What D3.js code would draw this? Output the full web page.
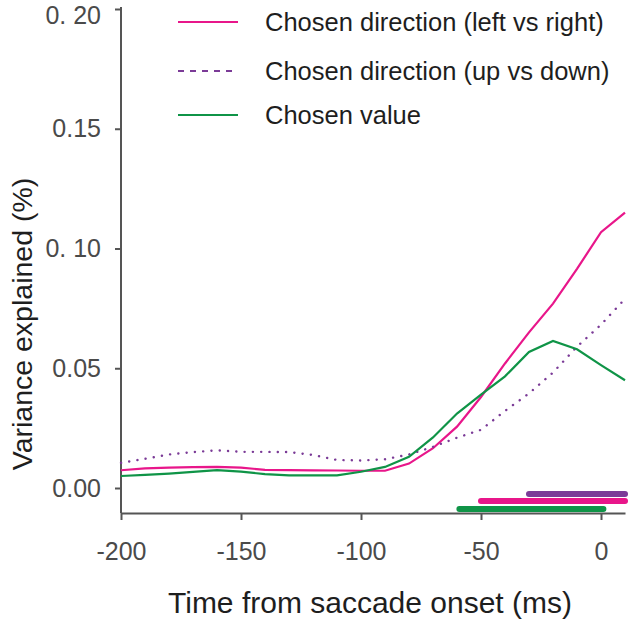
<!DOCTYPE html>
<html><head><meta charset="utf-8">
<script src="https://cdn.jsdelivr.net/npm/d3@7"></script>
<style>
html,body{margin:0;padding:0;background:#fff;}
text{font-family:"Liberation Sans",Arial,sans-serif;}
</style></head>
<body><svg id="c" width="630" height="619"></svg>
<script>
const times = [-200,-190,-180,-170,-160,-150,-140,-130,-120,-110,-100,-90,-80,-70,-60,-50,-40,-30,-20,-10,0,10];
const leftRight = [0.0074,0.0082,0.0085,0.0087,0.0088,0.0085,0.0076,0.0075,0.0074,0.0073,0.0072,0.0072,0.0102,0.0166,0.0256,0.0380,0.0520,0.0650,0.0770,0.0915,0.1068,0.1150];
const upDown = [0.0105,0.0122,0.0140,0.0150,0.0157,0.0151,0.0151,0.0150,0.0138,0.0117,0.0115,0.0120,0.0140,0.0172,0.0210,0.0243,0.0322,0.0395,0.0482,0.0590,0.0682,0.0790];
const chosenValue = [0.0050,0.0055,0.0060,0.0067,0.0075,0.0068,0.0058,0.0053,0.0053,0.0053,0.0068,0.0088,0.0130,0.0211,0.0311,0.0390,0.0466,0.0568,0.0614,0.0579,0.0513,0.0450];
const seriesNames = ["Chosen direction (left vs right)","Chosen direction (up vs down)","Chosen value"];
const seriesColors = ["#e8168a","#7b3b97","#0f9447"];
const sigStart = [-50,-30,-59];
const sigEnd = [10,10,1];
const xTicks = [-200,-150,-100,-50,0];
const xTickLabels = ["-200","-150","-100","-50","0"];
const yTicks = [0,0.05,0.10,0.15,0.20];
const yTickLabels = ["0.00","0.05","0. 10","0.15","0. 20"];

const svg = d3.select("#c");
const x = d3.scaleLinear().domain([-200,10]).range([121,625]);
const y = d3.scaleLinear().domain([0,0.2]).range([488,9]);
const axisColor = "#555";
const tickTextColor = "#4a4a4a";

// axes
const xAxis = svg.append("g").attr("transform","translate(0,513)")
  .call(d3.axisBottom(x).tickValues(xTicks).tickFormat((d,i)=>xTickLabels[i]).tickSize(7).tickSizeOuter(0).tickPadding(22));
const yAxis = svg.append("g").attr("transform","translate(121,0)")
  .call(d3.axisLeft(y).tickValues(yTicks).tickFormat((d,i)=>yTickLabels[i]).tickSize(6).tickSizeOuter(0).tickPadding(14));
yAxis.select(".domain").attr("d","M0,7V513");
[xAxis,yAxis].forEach(a=>{
  a.select(".domain").attr("stroke",axisColor).attr("stroke-width",2);
  a.selectAll(".tick line").attr("stroke",axisColor).attr("stroke-width",2);
  a.selectAll(".tick text").attr("fill",tickTextColor).style("font-size","25px");
});
// keep the top label inside the picture
yAxis.selectAll(".tick text").filter(d=>d===0.20).attr("y",6);

// lines
const data = [leftRight, upDown, chosenValue];
const line = d3.line().x((d,i)=>x(times[i])).y(d=>y(d));
data.forEach((s,k)=>{
  const p = svg.append("path").datum(s).attr("d",line).attr("fill","none")
    .attr("stroke",seriesColors[k]).attr("stroke-width",k===1?2.4:2.2);
  if(k===1) p.attr("stroke-dasharray","0.1 8.2").attr("stroke-linecap","round");
});

// significance bars
const barY = [501,494,509];
[0,1,2].forEach(k=>{
  svg.append("line").attr("x1",x(sigStart[k])).attr("x2",x(sigEnd[k]))
    .attr("y1",barY[k]).attr("y2",barY[k]).attr("stroke",seriesColors[k])
    .attr("stroke-width",6).attr("stroke-linecap","round");
});

// legend
const legY = [22,71,115];
[0,1,2].forEach(k=>{
  const l = svg.append("line").attr("x1",178).attr("x2",238).attr("y1",legY[k]).attr("y2",legY[k])
    .attr("stroke",seriesColors[k]).attr("stroke-width",2);
  if(k===1) l.attr("stroke-dasharray","6 6");
  svg.append("text").attr("x",265).attr("y",legY[k]).attr("dy","0.35em")
    .attr("fill","#1e1e1e").style("font-size","25.5px").text(seriesNames[k]);
});

// axis titles
svg.append("text").attr("x",370).attr("y",602).attr("dy","0.35em").attr("text-anchor","middle")
  .attr("fill","#1e1e1e").style("font-size","30px").text("Time from saccade onset (ms)");
svg.append("text").attr("transform","translate(22,324) rotate(-90)").attr("dy","0.35em").attr("text-anchor","middle")
  .attr("fill","#1e1e1e").style("font-size","28.5px").text("Variance explained (%)");
</script></body></html>
